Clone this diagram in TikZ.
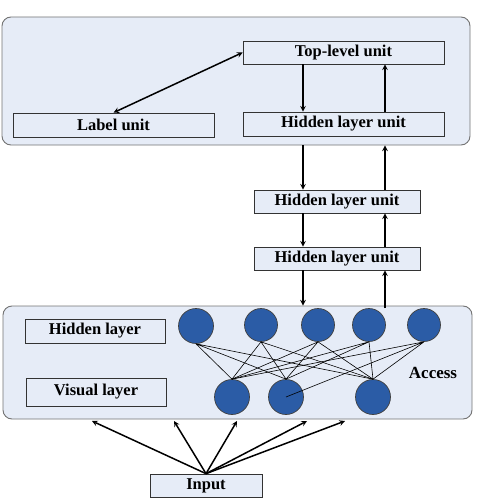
\documentclass[tikz,border=0pt]{standalone}
\usepackage{fontspec}
\setmainfont{Liberation Serif}
\usetikzlibrary{arrows}
\definecolor{panelblue}{HTML}{E6ECF7}
\definecolor{unitblue}{HTML}{2B5CA6}
\tikzstyle{panel} = [
	draw=black!55,
	fill=panelblue,
	rounded corners=9pt,
	line width=0.9pt
]
\tikzstyle{unit} = [
	draw=black!80,
	fill=panelblue,
	inner sep=0pt,
	line width=0.7pt,
	font=\bfseries\fontsize{16.5}{19}\selectfont
]
\tikzstyle{neuron} = [circle, draw=black!75, fill=unitblue, inner sep=0pt, line width=0.7pt]
\tikzstyle{arrow} = [line width=1.5pt, ->, >=stealth]
\tikzstyle{link} = [line width=0.6pt]

\begin{document}
\begin{tikzpicture}[x=1pt, y=-1pt]
    \useasboundingbox (0, 0) rectangle (477, 503);
    % panels
    \node[panel, minimum width=468, minimum height=128] at (236, 81) (top panel) {};
    \node[panel, minimum width=469, minimum height=113] at (237.5, 362.5) (access panel) {};
    % units of the upper part
    \node[unit, minimum width=201, minimum height=23] at (343.5, 52.5) (top unit) {Top-level unit};
    \node[unit, minimum width=201, minimum height=24] at (113.5, 125) (label unit) {Label unit};
    \node[unit, minimum width=201, minimum height=24] at (343.5, 124) (hidden unit A) {Hidden layer unit};
    \node[unit, minimum width=166, minimum height=23] at (337, 201.5) (hidden unit B) {Hidden layer unit};
    \node[unit, minimum width=166, minimum height=23] at (337, 258.5) (hidden unit C) {Hidden layer unit};
    % layers
    \node[unit, minimum width=140, minimum height=24] at (95, 331) (hidden layer) {Hidden layer};
    \node[unit, minimum width=140, minimum height=28] at (96, 392) (visual layer) {Visual layer};
    \node[font=\bfseries\fontsize{17}{19}\selectfont] at (433, 373) (access) {Access};
    \node[unit, minimum width=112, minimum height=23] at (206, 485.5) (input) {Input};
    % neurons
    \node[neuron, minimum size=35] at (196, 326) (h1) {};
    \node[neuron, minimum size=33] at (261, 325) (h2) {};
    \node[neuron, minimum size=33] at (318, 325) (h3) {};
    \node[neuron, minimum size=33] at (369, 325) (h4) {};
    \node[neuron, minimum size=33] at (424, 325) (h5) {};
    \node[neuron, minimum size=35] at (232, 397) (v1) {};
    \node[neuron, minimum size=35] at (286, 397) (v2) {};
    \node[neuron, minimum size=35] at (373, 397) (v3) {};
    \draw[link] (h1.south) -- (v1.north) (h1.south) -- (v2.north) (h1.south) -- (v3.north);
    \draw[link] (h2.south) -- (v1.north) (h2.south) -- (v2.north) (h2.south) -- (v3.north);
    \draw[link] (h3.south) -- (v1.north) (h3.south) -- (v2.north) (h3.south) -- (v3.north);
    \draw[link] (h4.south) -- (v1.north) (h4.south) -- (v2.north) (h4.south) -- (v3.north);
    \draw[link] (h5.south) -- (v1.north) (h5.south) -- (v2.center) (h5.south) -- (v3.north);
    % vertical arrows
    \coordinate (down) at (303, 0);
    \coordinate (up) at (385, 0);
    \draw[arrow, <->] (label unit.north) -- (top unit.west);
    \draw[arrow] (top unit.south -| down) -- (hidden unit A.north -| down);
    \draw[arrow] (hidden unit A.north -| up) -- (top unit.south -| up);
    \draw[arrow] (top panel.south -| down) -- (hidden unit B.north -| down);
    \draw[arrow] (hidden unit B.north -| up) -- (top panel.south -| up);
    \draw[arrow] (hidden unit B.south -| down) -- (hidden unit C.north -| down);
    \draw[arrow] (hidden unit C.north -| up) -- (hidden unit B.south -| up);
    \draw[arrow] (hidden unit C.south -| down) -- (access panel.north -| down);
    \coordinate (h4 top) at (385, 308);
    \draw[arrow] (h4 top) -- (hidden unit C.south -| up);
    % input arrows
    \coordinate (in1) at (92, 421);
    \coordinate (in2) at (174, 421);
    \coordinate (in3) at (237, 421);
    \coordinate (in4) at (307, 421);
    \coordinate (in5) at (345, 421);
    \draw[arrow] (input.north) -- (in1);
    \draw[arrow] (input.north) -- (in2);
    \draw[arrow] (input.north) -- (in3);
    \draw[arrow] (input.north) -- (in4);
    \draw[arrow] (input.north) -- (in5);
\end{tikzpicture}
\end{document}
